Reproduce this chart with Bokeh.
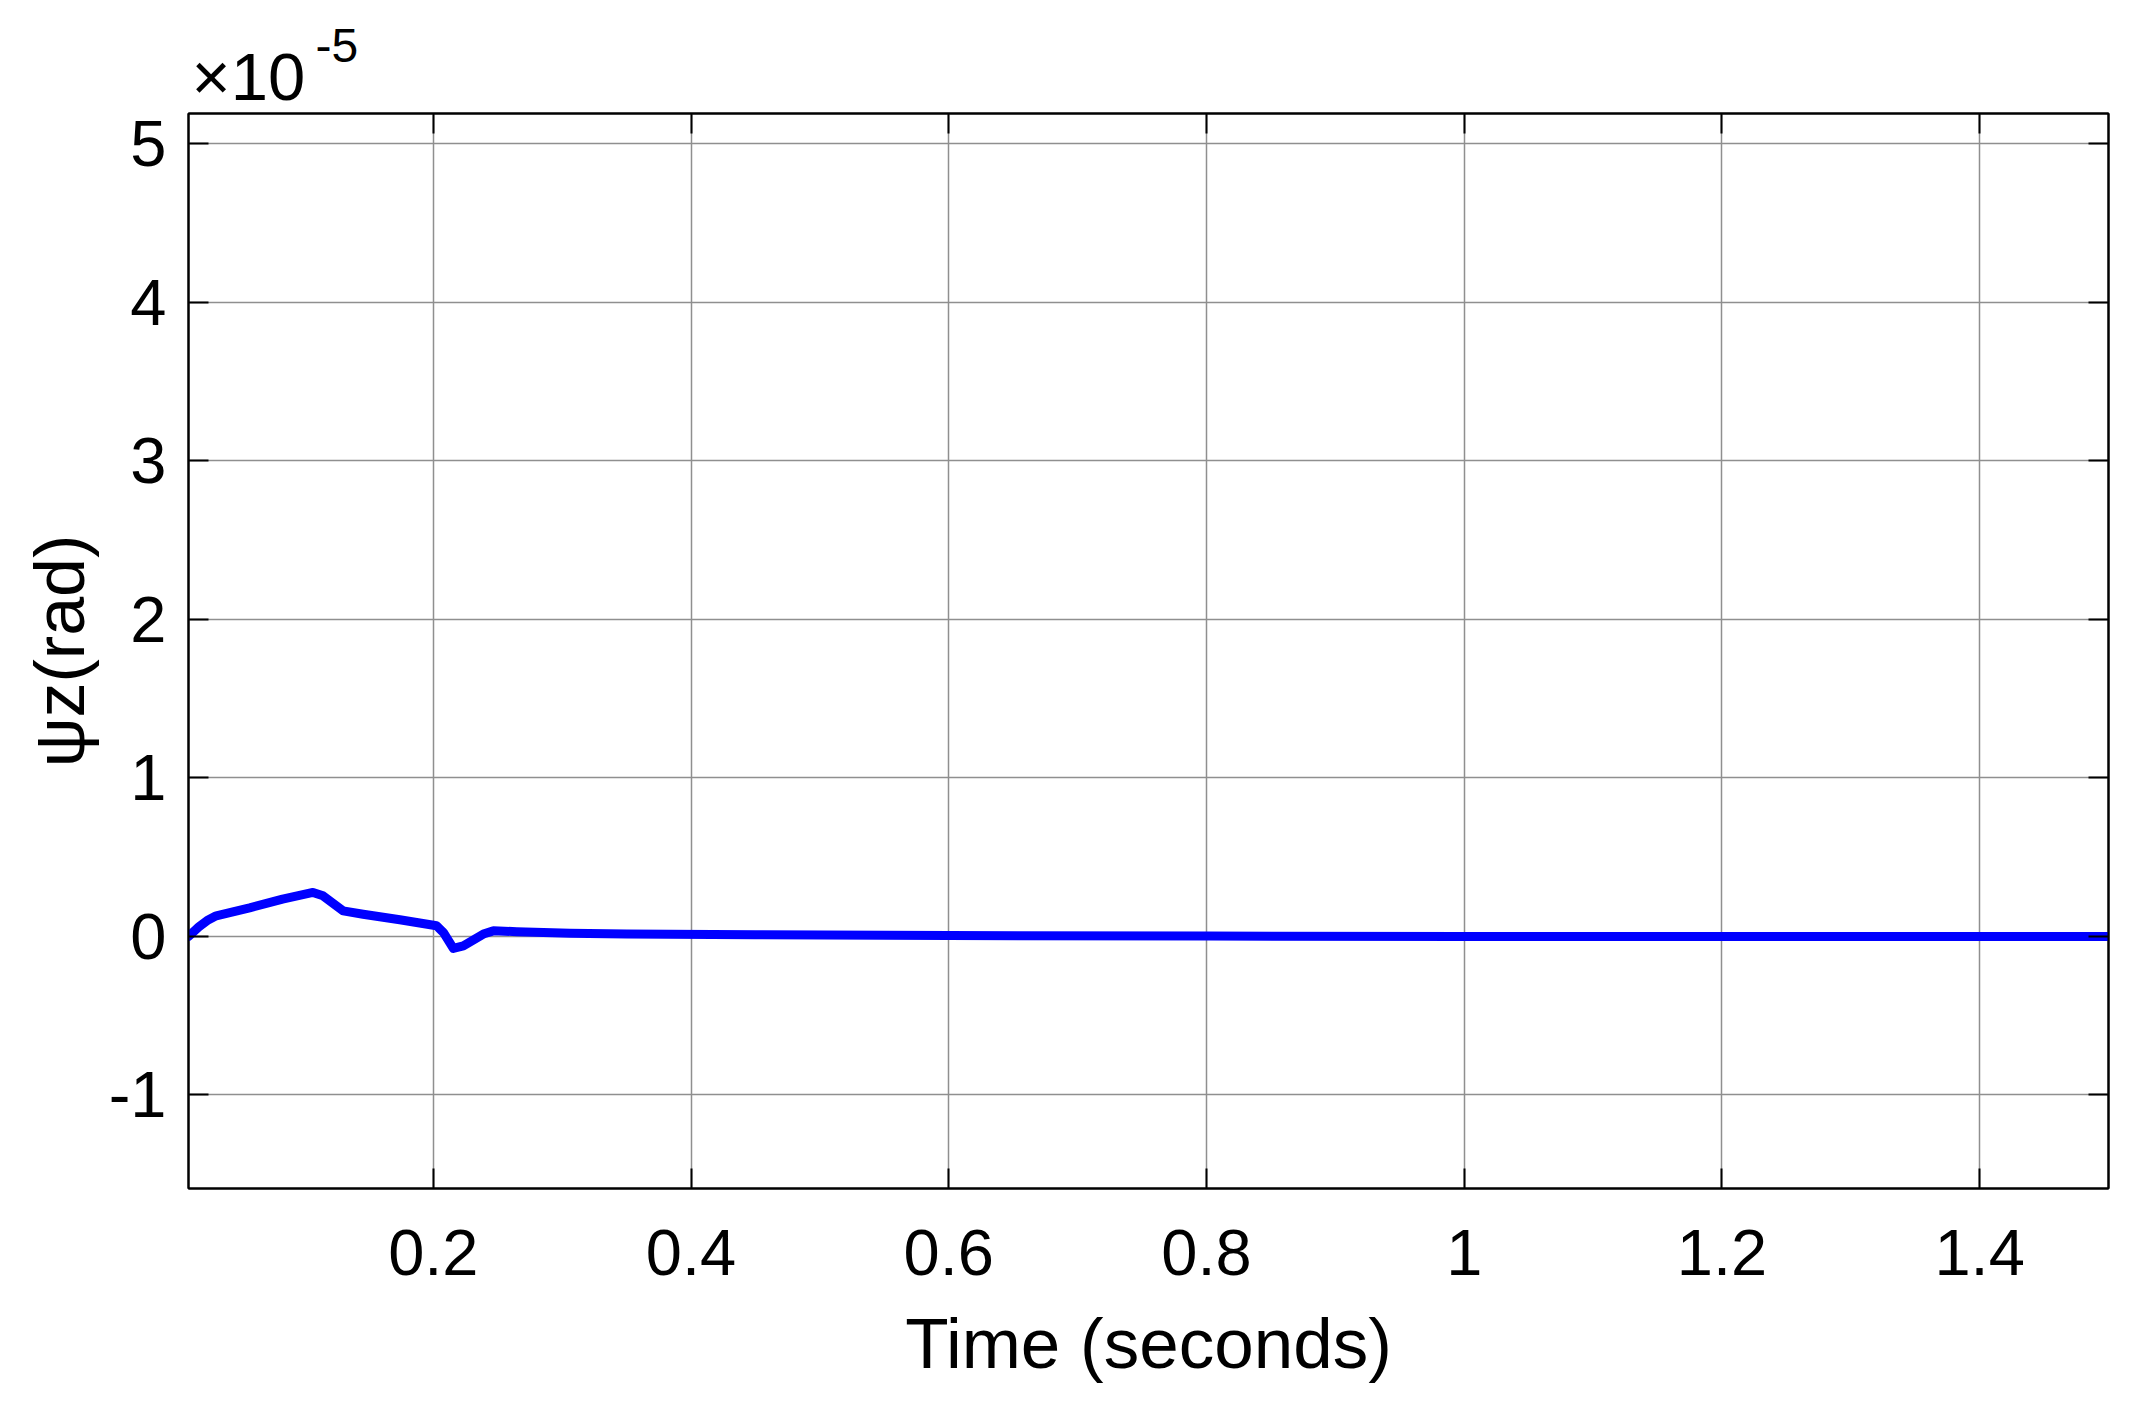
from bokeh.plotting import figure
from bokeh.models import Range1d, FixedTicker, LinearAxis, Title
from bokeh.embed import file_html
from bokeh.resources import INLINE

# Data (psi_z in units of 1e-5 rad)
time_s = [0.01, 0.018, 0.0245, 0.0315, 0.0574, 0.083, 0.1066, 0.1144, 0.13,
          0.1455, 0.174, 0.2025, 0.2078, 0.2155, 0.2233, 0.2388, 0.2466,
          0.2648, 0.306, 0.35, 0.45, 0.6, 0.8, 1.0, 1.5]
psi_z = [0.0, 0.06, 0.1, 0.13, 0.18, 0.235, 0.277, 0.256, 0.161,
         0.14, 0.105, 0.067, 0.025, -0.076, -0.06, 0.015, 0.035,
         0.03, 0.02, 0.015, 0.01, 0.005, 0.002, 0.0, 0.0]

x_ticks = [0.2, 0.4, 0.6, 0.8, 1.0, 1.2, 1.4]
x_tick_labels = ["0.2", "0.4", "0.6", "0.8", "1", "1.2", "1.4"]
y_ticks = [-1, 0, 1, 2, 3, 4, 5]
y_tick_labels = ["-1", "0", "1", "2", "3", "4", "5"]
x_label = "Time (seconds)"
y_label = "ψz(rad)"
exp_base = "×10"
exp_power = "-5"

FONT = "Liberation Sans"

p = figure(width=2140, height=1398, output_backend="svg", toolbar_location=None,
           x_range=Range1d(0.01, 1.5), y_range=Range1d(-1.59, 5.19),
           min_border_left=188, min_border_right=32, min_border_top=113,
           min_border_bottom=210)
p.background_fill_color = "white"
p.border_fill_color = "white"
p.outline_line_color = "black"
p.outline_line_width = 2

p.line(time_s, psi_z, line_color="#0000ff", line_width=9, line_join="round", line_cap="round")

def style_axis(ax, ticks, overrides, show_labels):
    ax.ticker = FixedTicker(ticks=ticks)
    ax.axis_line_color = "black"
    ax.axis_line_width = 2
    ax.major_tick_line_color = "black"
    ax.major_tick_line_width = 2
    ax.major_tick_in = 20
    ax.major_tick_out = 0
    ax.minor_tick_line_color = None
    ax.major_label_text_font = FONT
    ax.major_label_text_color = "black"
    if show_labels:
        ax.major_label_overrides = overrides
        ax.major_label_text_font_size = "65px"
    else:
        ax.major_label_overrides = {t: "" for t in ticks}
        ax.major_label_text_font_size = "1px"
        ax.major_label_standoff = 0

xo = {t: l for t, l in zip(x_ticks, x_tick_labels)}
yo = {t: l for t, l in zip(y_ticks, y_tick_labels)}

xa = p.xaxis[0]
style_axis(xa, x_ticks, xo, True)
xa.major_label_standoff = 41
xa.axis_label = x_label
xa.axis_label_text_font = FONT
xa.axis_label_text_font_size = "71px"
xa.axis_label_text_font_style = "normal"
xa.axis_label_text_color = "black"
xa.axis_label_standoff = 26

ya = p.yaxis[0]
style_axis(ya, y_ticks, yo, True)
ya.major_label_standoff = 22
ya.axis_label = y_label
ya.axis_label_text_font = FONT
ya.axis_label_text_font_size = "70px"
ya.axis_label_text_font_style = "normal"
ya.axis_label_text_color = "black"
ya.axis_label_standoff = 7

top_ax = LinearAxis()
style_axis(top_ax, x_ticks, xo, False)
right_ax = LinearAxis()
style_axis(right_ax, y_ticks, yo, False)
p.add_layout(right_ax, "right")

p.xgrid.ticker = FixedTicker(ticks=x_ticks)
p.ygrid.ticker = FixedTicker(ticks=y_ticks)
p.grid.grid_line_color = "#8f8f8f"
p.grid.grid_line_width = 1.5

# "x10^-5" multiplier above the axes: base and raised exponent
p.title.text = exp_power
p.title.text_font = FONT
p.title.text_font_size = "48px"
p.title.text_font_style = "normal"
p.title.text_color = "black"
p.title.align = "left"
p.title.offset = 127
p.title.standoff = -50

base_title = Title(text=exp_base, text_font=FONT, text_font_size="67px",
                   text_font_style="normal", text_color="black", align="left",
                   offset=3, standoff=0)
p.add_layout(top_ax, "above")
p.add_layout(base_title, "above")

open("out.html", "w").write(file_html(p, INLINE))
